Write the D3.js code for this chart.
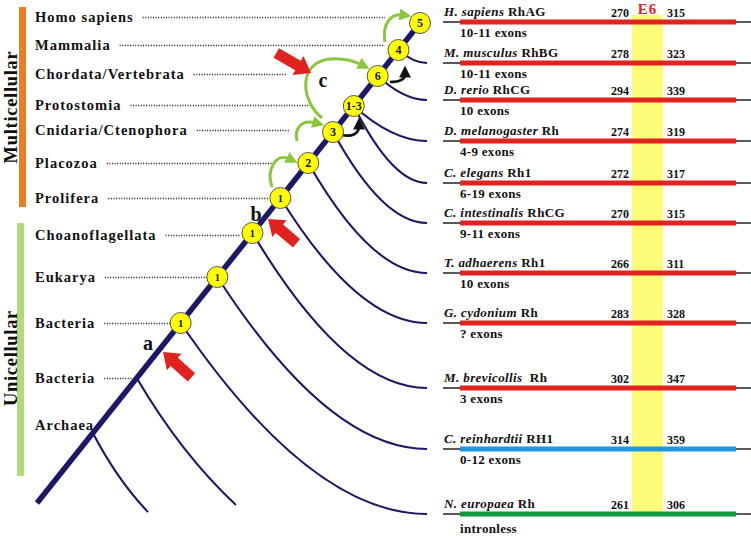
<!DOCTYPE html>
<html><head><meta charset="utf-8">
<script src="https://cdn.jsdelivr.net/npm/d3@7"></script>
<style>html,body{margin:0;padding:0;background:#fff;} svg{display:block;}</style>
</head><body>
<svg id="c" width="751" height="536"></svg>
<script>
// ================= DATA =================
const groupNames = ["Multicellular", "Unicellular"];
const cladeLabels = ["Homo sapiens","Mammalia","Chordata/Vertebrata","Protostomia","Cnidaria/Ctenophora",
  "Placozoa","Prolifera","Choanoflagellata","Eukarya","Bacteria","Bacteria","Archaea"];
const nodeLabels = ["5","4","6","1-3","3","2","1","1","1","1"];
const speciesNames = ["H. sapiens","M. musculus","D. rerio","D. melanogaster","C. elegans","C. intestinalis",
  "T. adhaerens","G. cydonium","M. brevicollis","C. reinhardtii","N. europaea"];
const geneNames = ["RhAG","RhBG","RhCG","Rh","Rh1","RhCG","Rh1","Rh","\u00a0Rh","RH1","Rh"];
const exonCounts = ["10-11 exons","10-11 exons","10 exons","4-9 exons","6-19 exons","9-11 exons",
  "10 exons","? exons","3 exons","0-12 exons","intronless"];
const e6Start = [270,278,294,274,272,270,266,283,302,314,261];
const e6End   = [315,323,339,319,317,315,311,328,347,359,306];
const geneKind = ["animal","animal","animal","animal","animal","animal","animal","animal","animal","alga","bacterium"];
const exonLabel = "E6";
const arrowLetters = ["a","b","c"];

// ================= LAYOUT =================
const svg = d3.select("#c");
const serif = "'Liberation Serif','Times New Roman',serif";
const navy = "#1c1766";
const kindColor = d3.scaleOrdinal().domain(["animal","alga","bacterium"]).range(["#e0231f","#1f96de","#0f9a3e"]);

// trunk parameter scales
const tx = d3.scaleLinear().domain([0,1]).range([37,420]);
const ty = d3.scaleLinear().domain([0,1]).range([503,23]);
const nodeY = [23,50,76,106,132,163,198,233,277,323];
const nodes = nodeY.map((y,i)=>{const t = ty.invert(y); return {x:tx(t), y:y, label:nodeLabels[i]};});
const rowY = [22,63,100,141,183,223,273,323,388,449,514];
const branchFrom = [null,1,2,3,3,4,5,6,7,8,9];
const cladeY = [22,50,79,110,135,168,203,240,282,328,383,430];
const dotEnd = [385,385,287,312,290,272,268,240,207,173,132,null];
const outgroupJunctionY = [433,378];
const outgroupEnd = [[148,512],[236,505]];

// ----- right panel -----
const band = {x0:632, x1:663, y0:15, y1:512};
svg.append("rect").attr("x",band.x0).attr("y",band.y0).attr("width",band.x1-band.x0)
  .attr("height",band.y1-band.y0).attr("fill","#fdfd7a");
svg.append("text").attr("x",(band.x0+band.x1)/2).attr("y",14).attr("text-anchor","middle")
  .attr("font-family",serif).attr("font-weight","bold").attr("font-size",15).attr("letter-spacing",1)
  .attr("fill","#e0231f").text(exonLabel);

const rows = svg.append("g");
speciesNames.forEach((name,i)=>{
  const y = rowY[i];
  rows.append("line").attr("x1",443).attr("x2",751).attr("y1",y).attr("y2",y)
    .attr("stroke","#222").attr("stroke-width",1.3);
  rows.append("line").attr("x1",460).attr("x2",736).attr("y1",y).attr("y2",y)
    .attr("stroke",kindColor(geneKind[i])).attr("stroke-width",5);
  const t = rows.append("text").attr("x",444).attr("y",y-6).attr("font-family",serif)
    .attr("font-weight","bold").attr("font-size",13).attr("letter-spacing",0.4).attr("fill","#111");
  t.append("tspan").attr("font-style","italic").text(name);
  t.append("tspan").text(" " + geneNames[i]);
  rows.append("text").attr("x",460).attr("y", y + (i===speciesNames.length-1 ? 19 : 15))
    .attr("font-family",serif).attr("font-weight","bold").attr("font-size",13).attr("letter-spacing",0.3)
    .attr("fill","#111").text(exonCounts[i]);
  rows.append("text").attr("x",629).attr("y",y-5).attr("text-anchor","end").attr("font-family",serif)
    .attr("font-weight","bold").attr("font-size",12).attr("fill","#111").text(e6Start[i]);
  rows.append("text").attr("x",667).attr("y",y-5).attr("font-family",serif)
    .attr("font-weight","bold").attr("font-size",12).attr("fill","#111").text(e6End[i]);
});

// ----- side group bars -----
svg.append("rect").attr("x",19).attr("y",7).attr("width",7).attr("height",200).attr("fill","#ec7d23");
svg.append("rect").attr("x",17).attr("y",223).attr("width",7).attr("height",253).attr("fill","#b3da7a");
[[107,groupNames[0]],[358,groupNames[1]]].forEach(([cy,txt])=>{
  svg.append("text").attr("transform",`translate(16.5,${cy}) rotate(-90)`).attr("text-anchor","middle")
    .attr("font-family",serif).attr("font-weight","bold").attr("font-size",18.5).attr("letter-spacing",0.7)
    .attr("fill","#111").text(txt);
});

// ----- clade labels + dotted leaders -----
const lab = svg.append("g");
cladeLabels.forEach((c,i)=>{
  const t = lab.append("text").attr("x",35).attr("y",cladeY[i]).attr("font-family",serif)
    .attr("font-weight","bold").attr("font-size",14.5).attr("letter-spacing",1).attr("fill","#111").text(c);
  if (dotEnd[i] !== null) {
    const w = t.node().getComputedTextLength();
    lab.append("line").attr("x1",35+w+9).attr("x2",dotEnd[i]).attr("y1",cladeY[i]-4.5).attr("y2",cladeY[i]-4.5)
      .attr("stroke","#111").attr("stroke-width",1.3).attr("stroke-dasharray","1,1.6");
  }
});

// ----- branches -----
const br = svg.append("g").attr("fill","none").attr("stroke",navy).attr("stroke-width",2.1);
const xEnd = 427;
rowY.forEach((y1,i)=>{
  if (branchFrom[i]===null) return;
  const n = nodes[branchFrom[i]];
  const p = d3.path();
  p.moveTo(n.x,n.y);
  p.quadraticCurveTo(n.x + 0.53*(xEnd-n.x), y1, xEnd, y1);
  br.append("path").attr("d",p.toString());
});
outgroupJunctionY.forEach((y0,i)=>{
  const x0 = tx(ty.invert(y0));
  const [x1,y1] = outgroupEnd[i];
  const p = d3.path();
  p.moveTo(x0,y0);
  p.quadraticCurveTo(x0+0.45*(x1-x0), y0+0.6*(y1-y0), x1, y1);
  br.append("path").attr("d",p.toString());
});

// ----- trunk -----
svg.append("line").attr("x1",tx(0)).attr("y1",ty(0)).attr("x2",tx(1)).attr("y2",ty(1))
  .attr("stroke",navy).attr("stroke-width",5.5);

// ----- curved arrows -----
const defs = svg.append("defs");
[["gHead","#8cc63f",4],["kHead","#111",4.4]].forEach(([id,col,sz])=>{
  defs.append("marker").attr("id",id).attr("viewBox","0 0 10 10").attr("refX",3).attr("refY",5)
    .attr("markerWidth",sz).attr("markerHeight",sz).attr("orient","auto")
    .append("path").attr("d","M0,0 L10,5 L0,10 z").attr("fill",col);
});
const greenArrows = [
  "M272,187 C266,170 276,152 290,159",
  "M297,141 C294,128 302,119 316,123",
  "M322,118 C300,100 298,62 330,59 C342,58 352,60 362,65",
  "M385,42 C382,25 390,13 403,15"
];
greenArrows.forEach(d=>svg.append("path").attr("d",d).attr("fill","none").attr("stroke","#8cc63f")
  .attr("stroke-width",3).attr("marker-end","url(#gHead)"));
const blackArrows = [
  "M342,135 C352,137 359,134 359,126",
  "M390,82 C399,82 405,80 405,74"
];
blackArrows.forEach(d=>svg.append("path").attr("d",d).attr("fill","none").attr("stroke","#111")
  .attr("stroke-width",2.7).attr("marker-end","url(#kHead)"));

// ----- red block arrows -----
const redArrows = [
  {tip:[163,352], tail:[190,376], letter:[148,350]},
  {tip:[268,219], tail:[295,242], letter:[256,221]},
  {tip:[311,73],  tail:[278,54],  letter:[323,87]}
];
redArrows.forEach((a,i)=>{
  const dx=a.tip[0]-a.tail[0], dy=a.tip[1]-a.tail[1];
  const L=Math.hypot(dx,dy)+2, ang=Math.atan2(dy,dx)*180/Math.PI;
  const hl=15, hw=11, sw=5.5;
  const pts=[[0,0],[-hl,-hw],[-hl,-sw],[-L,-sw],[-L,sw],[-hl,sw],[-hl,hw]];
  svg.append("polygon").attr("points",pts.map(p=>p.join(",")).join(" "))
    .attr("transform",`translate(${a.tip[0]},${a.tip[1]}) rotate(${ang})`).attr("fill","#e0231f");
  svg.append("text").attr("x",a.letter[0]).attr("y",a.letter[1]).attr("text-anchor","middle")
    .attr("font-family",serif).attr("font-weight","bold").attr("font-size",20).attr("fill","#111")
    .text(arrowLetters[i]);
});

// ----- nodes -----
const ng = svg.append("g");
nodes.forEach(n=>{
  ng.append("circle").attr("cx",n.x).attr("cy",n.y).attr("r",10.5).attr("fill","#ffff00")
    .attr("stroke","#555").attr("stroke-width",1);
  ng.append("text").attr("x",n.x).attr("y",n.y+4).attr("text-anchor","middle").attr("font-family",serif)
    .attr("font-weight","bold").attr("font-size",n.label==="1"?10.5:12).attr("fill","#111").text(n.label);
});
</script>
</body></html>
